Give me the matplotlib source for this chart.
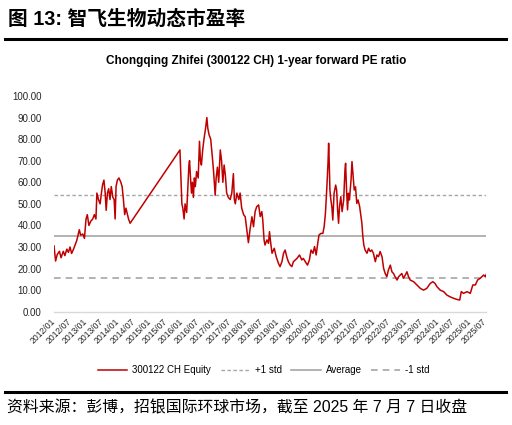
import matplotlib
matplotlib.use("Agg")
import matplotlib.pyplot as plt
import matplotlib.dates as mdates
import pandas as pd
import numpy as np

# ---------------- data ----------------
# dates as decimal years, PE values
t_dec = [
    2012.00, 2012.05, 2012.10, 2012.17, 2012.22, 2012.29, 2012.34, 2012.40, 2012.45, 2012.50,
    2012.55, 2012.61, 2012.66, 2012.71, 2012.76, 2012.79, 2012.83, 2012.90, 2012.95, 2013.00,
    2013.04, 2013.09, 2013.15, 2013.21, 2013.26, 2013.31, 2013.34, 2013.39, 2013.44, 2013.49,
    2013.52, 2013.56, 2013.60, 2013.63, 2013.67, 2013.71, 2013.75, 2013.79, 2013.84, 2013.88,
    2013.91, 2013.94, 2013.98, 2014.03, 2014.09, 2014.13, 2014.17, 2014.21, 2014.25, 2014.30,
    2014.33, 2014.38,
    2015.94, 2015.97, 2016.00, 2016.03, 2016.07, 2016.10, 2016.15, 2016.18, 2016.22, 2016.24,
    2016.27, 2016.30, 2016.33, 2016.36, 2016.39, 2016.42, 2016.46, 2016.51, 2016.55, 2016.58,
    2016.61, 2016.65, 2016.69, 2016.74, 2016.78, 2016.81, 2016.85, 2016.90, 2016.95, 2016.99,
    2017.04, 2017.07, 2017.11, 2017.15, 2017.20, 2017.24, 2017.28, 2017.32, 2017.36, 2017.40,
    2017.45, 2017.51, 2017.56, 2017.61, 2017.64, 2017.67, 2017.72, 2017.78, 2017.82, 2017.87,
    2017.93, 2017.98, 2018.03, 2018.08, 2018.13,
    2018.19, 2018.24, 2018.29, 2018.34, 2018.40, 2018.45, 2018.50, 2018.53, 2018.57, 2018.60,
    2018.66, 2018.71, 2018.74, 2018.78, 2018.82, 2018.89, 2018.95, 2019.02, 2019.07, 2019.13,
    2019.18, 2019.23, 2019.28, 2019.33, 2019.39, 2019.44, 2019.49, 2019.60, 2019.68, 2019.75,
    2019.80, 2019.86, 2019.93, 2019.99, 2020.04, 2020.10, 2020.15, 2020.20, 2020.25, 2020.29,
    2020.35, 2020.41, 2020.45, 2020.49, 2020.53, 2020.57, 2020.59, 2020.61, 2020.63, 2020.66,
    2020.69, 2020.72, 2020.76, 2020.81, 2020.84, 2020.87, 2020.90, 2020.93, 2020.97, 2021.01,
    2021.06, 2021.10, 2021.12, 2021.15, 2021.18, 2021.21, 2021.24, 2021.29, 2021.32, 2021.35,
    2021.39, 2021.43, 2021.47, 2021.51, 2021.56, 2021.60, 2021.63, 2021.66, 2021.69, 2021.73,
    2021.79, 2021.84, 2021.89, 2021.94, 2021.99, 2022.05, 2022.10, 2022.15, 2022.20, 2022.26,
    2022.31, 2022.36, 2022.41, 2022.46, 2022.52, 2022.57, 2022.62, 2022.67, 2022.73, 2022.78,
    2022.83, 2022.88, 2022.93, 2022.99, 2023.04, 2023.09, 2023.14, 2023.25, 2023.35, 2023.46,
    2023.56, 2023.66, 2023.77, 2023.85, 2023.92, 2023.98, 2024.08, 2024.19, 2024.29, 2024.39,
    2024.50, 2024.60, 2024.69, 2024.74, 2024.81, 2024.92, 2025.02, 2025.10, 2025.18, 2025.25,
    2025.33, 2025.38, 2025.44, 2025.49, 2025.52,
]
pe_values = [
    30.5, 23.5, 26.5, 28.0, 25.0, 28.0, 26.0, 29.0, 27.5, 30.0,
    27.0, 29.0, 31.0, 33.0, 36.0, 38.0, 35.5, 36.0, 34.0, 43.0,
    45.0, 40.0, 42.0, 43.0, 45.0, 43.0, 55.0, 52.0, 50.0, 56.0,
    59.0, 61.0, 55.0, 47.0, 55.0, 57.0, 52.0, 58.0, 53.0, 52.0,
    43.0, 58.0, 61.0, 62.0, 60.0, 58.0, 52.0, 45.0, 48.0, 45.0,
    43.0, 41.0,
    75.0, 62.0, 50.0, 48.0, 43.0, 50.0, 46.0, 55.0, 68.0, 70.0,
    62.0, 55.0, 60.0, 53.0, 62.0, 58.0, 65.0, 62.0, 79.0, 70.0,
    68.0, 75.0, 80.0, 85.0, 90.0, 85.0, 82.0, 80.0, 72.0, 65.0,
    54.0, 62.0, 67.0, 60.0, 75.0, 70.0, 60.0, 68.0, 63.0, 55.0,
    53.0, 52.0, 55.0, 64.0, 52.0, 50.0, 55.0, 52.0, 55.0, 48.0,
    45.0, 44.0, 38.0, 32.0, 38.0,
    44.0, 39.4, 46.4, 48.7, 49.5, 44.1, 46.4, 42.5, 33.3, 30.9,
    33.3, 31.7, 37.1, 31.7, 27.1, 29.4, 25.5, 22.4, 20.9, 23.2,
    27.1, 28.6, 25.5, 23.2, 21.6, 20.9, 23.2, 24.7, 26.3, 24.0,
    24.7, 23.2, 21.6, 24.0, 28.6, 27.1, 30.2, 26.3, 31.7, 35.6,
    36.3, 36.3, 39.4, 45.6, 56.4, 68.8, 78.1, 68.8, 56.4, 51.8,
    48.7, 42.5, 54.9, 58.7, 56.4, 47.2, 41.0, 48.7, 53.3, 46.4,
    51.8, 65.7, 68.8, 56.4, 47.2, 54.9, 51.8, 61.1, 69.6, 64.2,
    56.4, 57.9, 50.2, 51.8, 48.7, 44.1, 41.0, 34.8, 30.9, 28.6,
    27.1, 29.4, 27.9, 28.6, 27.1, 23.2, 26.3, 25.5, 27.9, 25.5,
    20.1, 17.7, 16.2, 19.3, 21.6, 18.5, 17.7, 16.2, 14.7, 16.2,
    17.0, 17.7, 15.5, 17.0, 18.5, 16.2, 14.7, 13.9, 12.4, 10.8,
    10.0, 10.8, 13.1, 13.9, 13.1, 11.6, 10.0, 9.3, 7.7, 6.9,
    6.2, 5.7, 5.4, 9.3, 8.5, 9.3, 8.5, 12.4, 12.4, 14.7,
    15.5, 16.2, 17.0, 16.2, 17.3,
]
pe_average = 35.0
pe_std = 19.2

y_ticks = [0, 10, 20, 30, 40, 50, 60, 70, 80, 90, 100]
series_label = "300122 CH Equity"
legend_labels = ["+1 std", "Average", "-1 std"]
fig_title = "图 13: 智飞生物动态市盈率"
chart_title = "Chongqing Zhifei (300122 CH) 1-year forward PE ratio"
source_text = "资料来源：彭博，招银国际环球市场，截至 2025 年 7 月 7 日收盘"


def dec_to_ts(d):
    y = int(np.floor(d))
    start = pd.Timestamp(year=y, month=1, day=1)
    end = pd.Timestamp(year=y + 1, month=1, day=1)
    return start + (end - start) * (d - y)


dates = [dec_to_ts(d) for d in t_dec]

# ---------------- figure ----------------
fam = ["Liberation Sans", "Noto Sans CJK SC"]
plt.rcParams["font.family"] = fam

fig = plt.figure(figsize=(5.12, 4.25), dpi=100)
ax = fig.add_axes([54 / 512, 1 - 311.7 / 425, (486 - 54) / 512, (311.7 - 96) / 425])

red = "#C00000"
gray = "#A6A6A6"

ax.plot(dates, pe_values, color=red, lw=1.1, label=series_label, zorder=3)
ax.axhline(pe_average + pe_std, color=gray, lw=1.0, ls=(0, (2.5, 1.8)), label=legend_labels[0])
ax.axhline(pe_average, color=gray, lw=1.2, ls="-", label=legend_labels[1])
ax.axhline(pe_average - pe_std, color=gray, lw=1.2, ls=(0, (4, 3)), label=legend_labels[2])

ax.set_ylim(0, 100)
ax.set_yticks(y_ticks)
ax.set_yticklabels([f"{v:.2f}" for v in y_ticks], fontsize=7, color="#262626")

ax.set_xlim(pd.Timestamp("2012-01-01"), pd.Timestamp("2025-07-07"))
ax.xaxis.set_major_locator(mdates.MonthLocator(bymonth=[1, 7]))
ax.xaxis.set_major_formatter(mdates.DateFormatter("%Y/%m"))
for lab in ax.get_xticklabels():
    lab.set_rotation(45)
    lab.set_ha("right")
    lab.set_va("center")
    lab.set_rotation_mode("anchor")
    lab.set_fontsize(6.2)
    lab.set_color("#262626")

ax.tick_params(axis="x", length=0, pad=6)
ax.tick_params(axis="y", length=0, pad=9)
for s in ["top", "right", "left"]:
    ax.spines[s].set_visible(False)
ax.spines["bottom"].set_color("#D9D9D9")
ax.spines["bottom"].set_linewidth(1.0)

# titles
fig.text(8 / 512, 1 - 19 / 425, fig_title, fontsize=14.2, fontweight="bold",
         va="center", ha="left", family=fam)
fig.add_artist(plt.Line2D([5 / 512, 506 / 512], [1 - 38.5 / 425] * 2, color="black", lw=2.2))
fig.text(256.5 / 512, 1 - 61 / 425, chart_title, fontsize=8.5, fontweight="bold",
         ha="center", va="center", family=fam)

handles, labels = ax.get_legend_handles_labels()
fig.legend(handles, labels, loc="center", bbox_to_anchor=(264 / 512, 1 - 370 / 425), ncol=4,
           frameon=False, fontsize=7, handlelength=3.0, columnspacing=1.0, handletextpad=0.5)

fig.add_artist(plt.Line2D([5 / 512, 506 / 512], [1 - 391.5 / 425] * 2, color="black", lw=2.2))
fig.text(7 / 512, 1 - 408 / 425, source_text, fontsize=11.4, ha="left", va="center", family=fam)

fig.savefig("out.png", dpi=100)
